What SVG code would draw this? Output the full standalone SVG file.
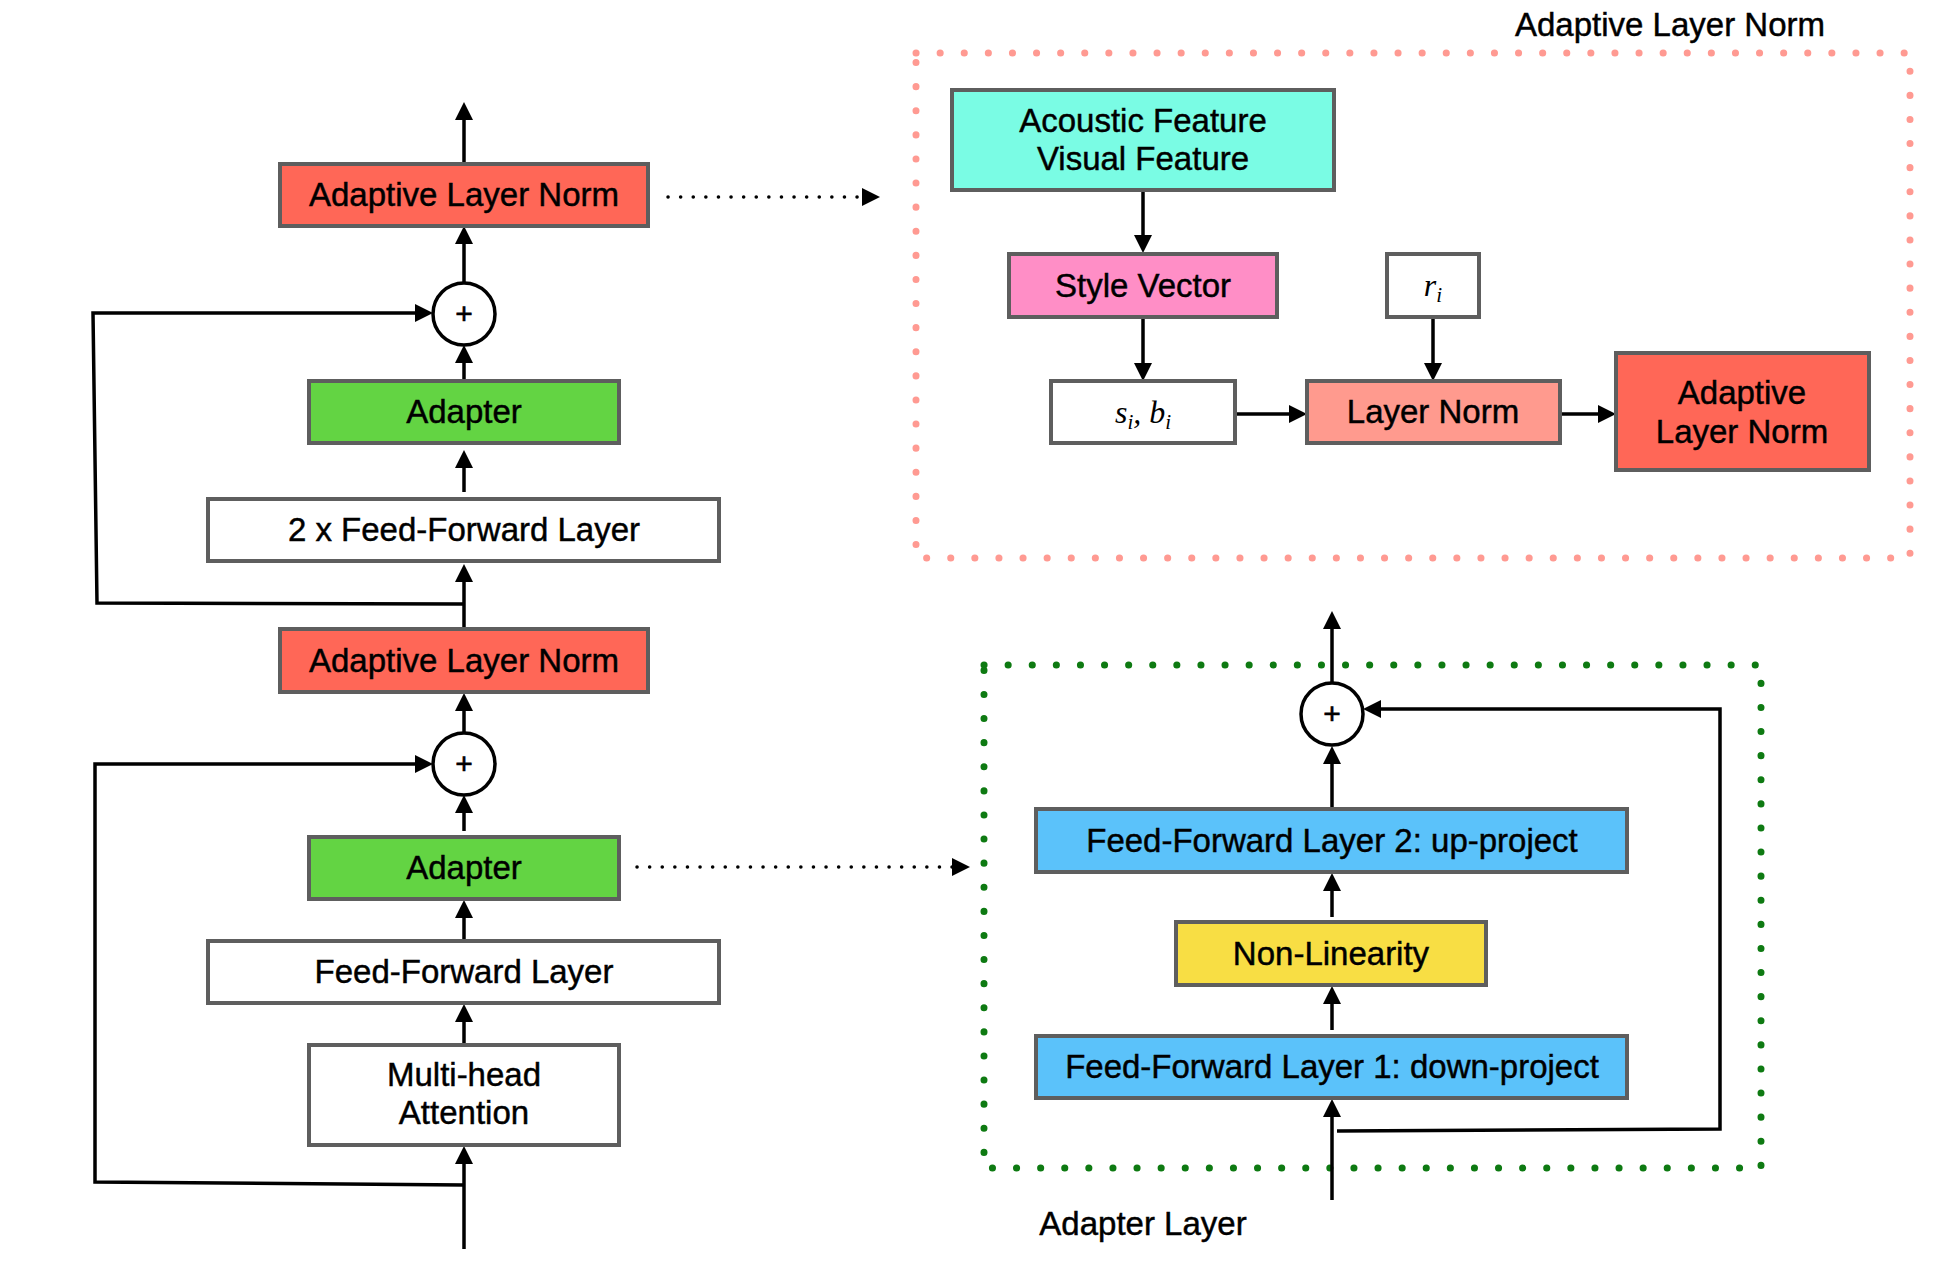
<svg xmlns="http://www.w3.org/2000/svg" width="1950" height="1282" viewBox="0 0 1950 1282">
<defs>
<marker id="ah" markerUnits="userSpaceOnUse" markerWidth="18" markerHeight="18" refX="8" refY="9" orient="auto">
<path d="M0,0 L18,9 L0,18 z" fill="#000"/>
</marker>
<style>
.box{stroke:#5e5e5e;stroke-width:4}
.t{font-family:"Liberation Sans",Arial,sans-serif;font-size:33px;fill:#000;stroke:#000;stroke-width:0.45;text-anchor:middle}
.m{font-family:"Liberation Serif","Times New Roman",serif;font-style:italic;font-size:32px;fill:#000;text-anchor:middle}
.c{fill:none;stroke:#000;stroke-width:3.5}
.dot{fill:none;stroke:#000;stroke-width:3.5;stroke-dasharray:0.1 12.5;stroke-linecap:round}
.circ{fill:#fff;stroke:#000;stroke-width:3.5}
.plus{font-family:"Liberation Sans",Arial,sans-serif;font-size:30px;fill:#000;stroke:#000;stroke-width:0.6;text-anchor:middle}
</style>
</defs>
<rect width="1950" height="1282" fill="#fff"/>

<!-- containers -->
<g id="aln-container">
<rect x="916" y="53" width="994" height="505" fill="none" stroke="#ff9a92" stroke-width="7" stroke-dasharray="0.1 24" stroke-linecap="round"/>
<text class="t" x="1670" y="36">Adaptive Layer Norm</text>
</g>
<g id="adapter-container">
<rect x="984" y="665" width="777" height="503" fill="none" stroke="#0e7a12" stroke-width="7" stroke-dasharray="0.1 24" stroke-linecap="round"/>
<text class="t" x="1143" y="1235">Adapter Layer</text>
</g>

<!-- connectors -->
<g id="connectors">
<line class="c" x1="464" y1="164" x2="464" y2="112" marker-end="url(#ah)"/>
<line class="c" x1="464" y1="283" x2="464" y2="236" marker-end="url(#ah)"/>
<line class="c" x1="464" y1="380" x2="464" y2="355" marker-end="url(#ah)"/>
<line class="c" x1="464" y1="492" x2="464" y2="460" marker-end="url(#ah)"/>
<line class="c" x1="464" y1="629" x2="464" y2="574" marker-end="url(#ah)"/>
<polyline class="c" points="464,604 97,603 93,313 423,313" marker-end="url(#ah)"/>
<line class="c" x1="464" y1="733" x2="464" y2="703" marker-end="url(#ah)"/>
<line class="c" x1="464" y1="831" x2="464" y2="805" marker-end="url(#ah)"/>
<line class="c" x1="464" y1="940" x2="464" y2="910" marker-end="url(#ah)"/>
<line class="c" x1="464" y1="1044" x2="464" y2="1014" marker-end="url(#ah)"/>
<line class="c" x1="464" y1="1249" x2="464" y2="1156" marker-end="url(#ah)"/>
<polyline class="c" points="464,1185 95,1182 95,764 423,764" marker-end="url(#ah)"/>
<line class="dot" x1="668" y1="197" x2="866" y2="197"/>
<line class="c" x1="868" y1="197" x2="870" y2="197" stroke-width="1" marker-end="url(#ah)"/>
<line class="dot" x1="637" y1="867" x2="956" y2="867"/>
<line class="c" x1="958" y1="867" x2="960" y2="867" stroke-width="1" marker-end="url(#ah)"/>
<line class="c" x1="1143" y1="190" x2="1143" y2="243" marker-end="url(#ah)"/>
<line class="c" x1="1143" y1="317" x2="1143" y2="371" marker-end="url(#ah)"/>
<line class="c" x1="1433" y1="317" x2="1433" y2="371" marker-end="url(#ah)"/>
<line class="c" x1="1235" y1="414" x2="1297" y2="414" marker-end="url(#ah)"/>
<line class="c" x1="1560" y1="414" x2="1606" y2="414" marker-end="url(#ah)"/>
<line class="c" x1="1332" y1="683" x2="1332" y2="621" marker-end="url(#ah)"/>
<line class="c" x1="1332" y1="809" x2="1332" y2="756" marker-end="url(#ah)"/>
<line class="c" x1="1332" y1="917" x2="1332" y2="883" marker-end="url(#ah)"/>
<line class="c" x1="1332" y1="1030" x2="1332" y2="996" marker-end="url(#ah)"/>
<line class="c" x1="1332" y1="1200" x2="1332" y2="1109" marker-end="url(#ah)"/>
<polyline class="c" points="1337,1131 1720,1129 1720,709 1373,709" marker-end="url(#ah)"/>
</g>

<!-- left column -->
<g id="aln-top">
<rect class="box" x="280" y="164" width="368" height="62" fill="#ff6757"/>
<text class="t" x="464" y="206">Adaptive Layer Norm</text>
</g>
<g id="add-top">
<circle class="circ" cx="464" cy="314" r="31"/>
<text class="plus" x="464" y="324">+</text>
</g>
<g id="adapter-top">
<rect class="box" x="309" y="381" width="310" height="62" fill="#63d443"/>
<text class="t" x="464" y="423">Adapter</text>
</g>
<g id="ff2x">
<rect class="box" x="208" y="499" width="511" height="62" fill="#fff"/>
<text class="t" x="464" y="541">2 x Feed-Forward Layer</text>
</g>
<g id="aln-bottom">
<rect class="box" x="280" y="629" width="368" height="63" fill="#ff6757"/>
<text class="t" x="464" y="672">Adaptive Layer Norm</text>
</g>
<g id="add-bottom">
<circle class="circ" cx="464" cy="764" r="31"/>
<text class="plus" x="464" y="774">+</text>
</g>
<g id="adapter-bottom">
<rect class="box" x="309" y="837" width="310" height="62" fill="#63d443"/>
<text class="t" x="464" y="879">Adapter</text>
</g>
<g id="ff">
<rect class="box" x="208" y="941" width="511" height="62" fill="#fff"/>
<text class="t" x="464" y="983">Feed-Forward Layer</text>
</g>
<g id="mha">
<rect class="box" x="309" y="1045" width="310" height="100" fill="#fff"/>
<text class="t" x="464" y="1086">Multi-head</text>
<text class="t" x="464" y="1124">Attention</text>
</g>

<!-- adaptive layer norm detail -->
<g id="features">
<rect class="box" x="952" y="90" width="382" height="100" fill="#7afce4"/>
<text class="t" x="1143" y="132">Acoustic Feature</text>
<text class="t" x="1143" y="170">Visual Feature</text>
</g>
<g id="style-vector">
<rect class="box" x="1009" y="254" width="268" height="63" fill="#ff8ec6"/>
<text class="t" x="1143" y="297">Style Vector</text>
</g>
<g id="si-bi">
<rect class="box" x="1051" y="381" width="184" height="62" fill="#fff"/>
<text class="m" x="1143" y="423">s<tspan font-size="21" dy="6">i</tspan><tspan dy="-6">, b</tspan><tspan font-size="21" dy="6">i</tspan></text>
</g>
<g id="ri">
<rect class="box" x="1387" y="254" width="92" height="63" fill="#fff"/>
<text class="m" x="1433" y="296">r<tspan font-size="21" dy="6">i</tspan></text>
</g>
<g id="layer-norm">
<rect class="box" x="1307" y="381" width="253" height="62" fill="#ff9a8e"/>
<text class="t" x="1433" y="423">Layer Norm</text>
</g>
<g id="aln-out">
<rect class="box" x="1616" y="353" width="253" height="117" fill="#ff6757"/>
<text class="t" x="1742" y="404">Adaptive</text>
<text class="t" x="1742" y="443">Layer Norm</text>
</g>

<!-- adapter detail -->
<g id="add-adapter">
<circle class="circ" cx="1332" cy="714" r="31"/>
<text class="plus" x="1332" y="724">+</text>
</g>
<g id="ff-up">
<rect class="box" x="1036" y="809" width="591" height="63" fill="#5bc2fa"/>
<text class="t" x="1332" y="852">Feed-Forward Layer 2: up-project</text>
</g>
<g id="nonlin">
<rect class="box" x="1176" y="922" width="310" height="63" fill="#f8de44"/>
<text class="t" x="1331" y="965">Non-Linearity</text>
</g>
<g id="ff-down">
<rect class="box" x="1036" y="1036" width="591" height="62" fill="#5bc2fa"/>
<text class="t" x="1332" y="1078">Feed-Forward Layer 1: down-project</text>
</g>
</svg>
